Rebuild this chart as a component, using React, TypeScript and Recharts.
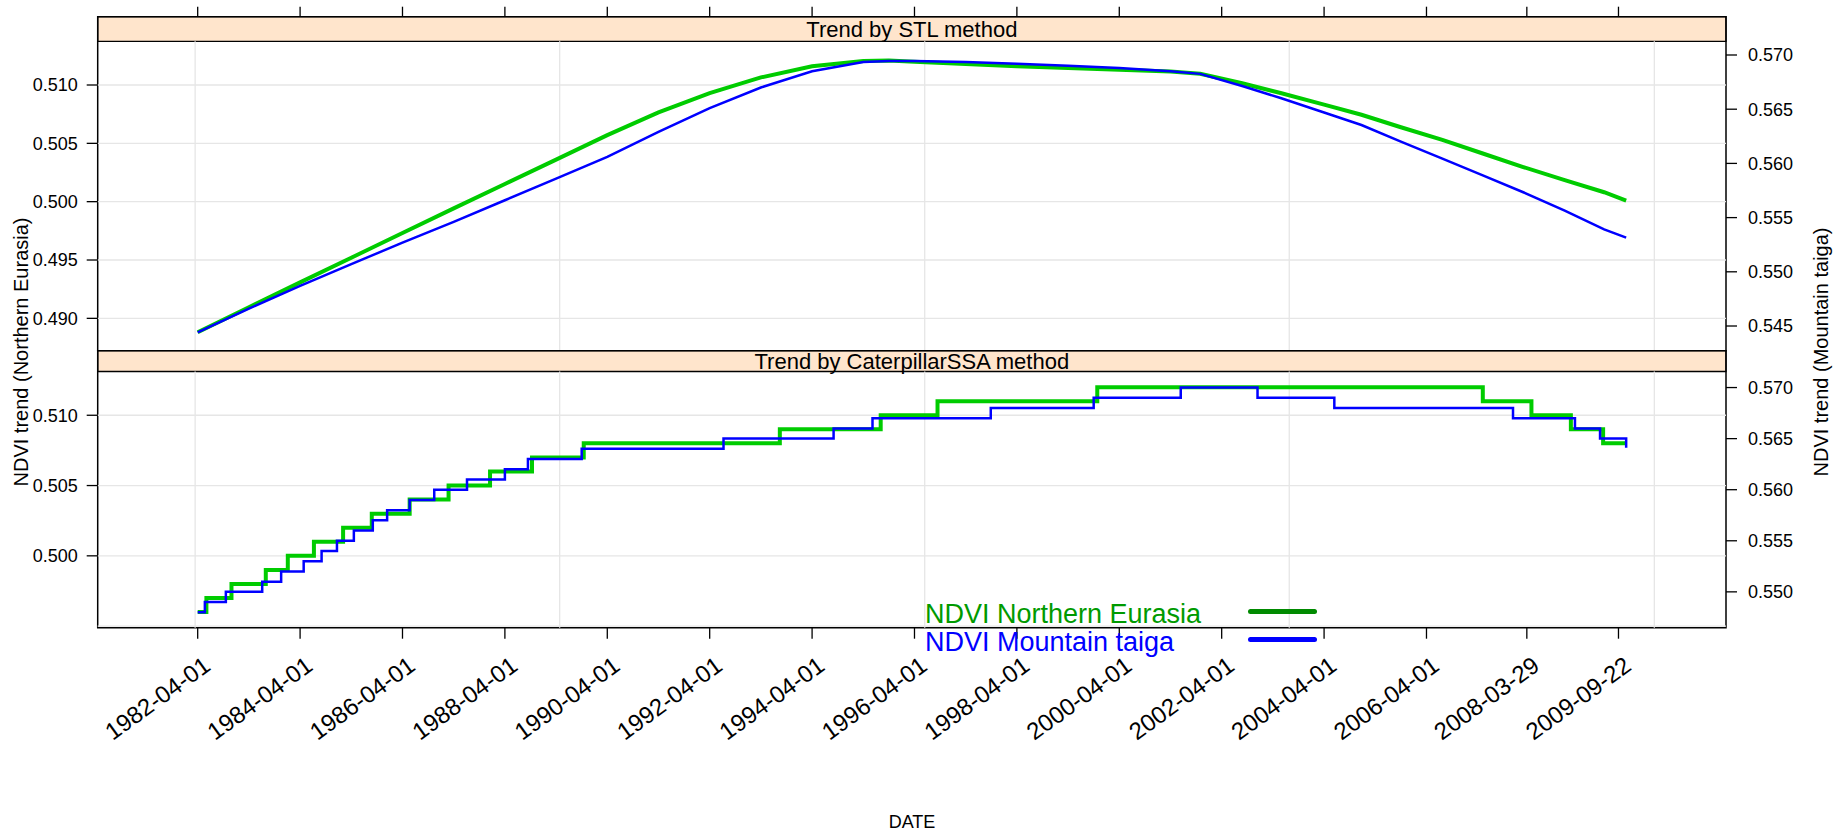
import React from 'react';
import { LineChart, Line, XAxis, YAxis, ReferenceArea, ReferenceLine, Legend } from 'recharts';

const W = 1833;
const H = 832;
const FONT = '"Liberation Sans", Arial, Helvetica, sans-serif';

// x is the time position in years after 1982-04-01 along the plot's time index
const tickPos = [0, 2, 4, 6, 8, 10, 12, 14, 16, 18, 20, 22, 24, 25.96, 27.75];
const tickLabels = [
  '1982-04-01', '1984-04-01', '1986-04-01', '1988-04-01', '1990-04-01', '1992-04-01',
  '1994-04-01', '1996-04-01', '1998-04-01', '2000-04-01', '2002-04-01', '2004-04-01',
  '2006-04-01', '2008-03-29', '2009-09-22',
];
const gridX = [-0.05, 7.07, 14.2, 21.32, 28.45];
const xDomain = [-1.953, 29.85];

// Trend by STL method
const stlT = [0, 1, 2, 3, 4, 5, 6, 7, 8, 9, 10, 11, 12, 13, 13.5, 14, 15, 16, 17, 18, 19, 19.58, 20.4, 21.15, 22, 22.73, 23.5, 24.31, 25.1, 25.89, 26.7, 27.47, 27.9];
const stlNE = [0.48881, 0.49095, 0.49308, 0.4952, 0.49732, 0.49943, 0.50152, 0.5036, 0.5057, 0.50765, 0.5093, 0.51065, 0.5116, 0.51205, 0.5121, 0.512, 0.5118, 0.5116, 0.51145, 0.5113, 0.51115, 0.51096, 0.51015, 0.50931, 0.50832, 0.50745, 0.50638, 0.50529, 0.50413, 0.50297, 0.50185, 0.50081, 0.50009];
const stlMT = [0.54441, 0.5466, 0.5487, 0.5507, 0.5527, 0.5546, 0.5566, 0.5586, 0.5606, 0.5629, 0.5651, 0.567, 0.5685, 0.56935, 0.56945, 0.56945, 0.56935, 0.5692, 0.569, 0.5688, 0.5685, 0.56826, 0.56714, 0.56603, 0.5647, 0.56354, 0.562, 0.56044, 0.5589, 0.55734, 0.55565, 0.55392, 0.55315];

// Trend by CaterpillarSSA method (step series)
const ssaNEt = [0, 0.17, 0.66, 1.33, 1.76, 2.27, 2.84, 3.4, 4.14, 4.9, 5.71, 6.53, 7.54, 11.37, 13.34, 14.45, 17.57, 25.1, 26.05, 26.82, 27.45, 27.9];
const ssaNEv = [0.496, 0.497, 0.498, 0.499, 0.5, 0.501, 0.502, 0.503, 0.504, 0.505, 0.506, 0.507, 0.508, 0.509, 0.51, 0.511, 0.512, 0.511, 0.51, 0.509, 0.508, 0.508];
const ssaMTt = [0, 0.14, 0.55, 1.26, 1.63, 2.07, 2.42, 2.72, 3.05, 3.42, 3.7, 4.14, 4.62, 5.26, 6.0, 6.45, 7.5, 10.27, 12.42, 13.18, 15.49, 17.5, 19.2, 20.7, 22.2, 25.69, 26.9, 27.39, 27.82, 27.9];
const ssaMTv = [0.548, 0.549, 0.55, 0.551, 0.552, 0.553, 0.554, 0.555, 0.556, 0.557, 0.558, 0.559, 0.56, 0.561, 0.562, 0.563, 0.564, 0.565, 0.566, 0.567, 0.568, 0.569, 0.57, 0.569, 0.568, 0.567, 0.566, 0.565, 0.565, 0.5641];

const leftTicksTop = [0.49, 0.495, 0.5, 0.505, 0.51];
const rightTicksTop = [0.545, 0.55, 0.555, 0.56, 0.565, 0.57];
const leftTicksBot = [0.5, 0.505, 0.51];
const leftGridBot = [0.495, 0.5, 0.505, 0.51];
const rightTicksBot = [0.55, 0.555, 0.56, 0.565, 0.57];

// axis ranges (value at panel bottom, strip bottom, strip top)
const topLeft = [0.487227, 0.513746, 0.515854];
const topRight = [0.542722, 0.573533];
const botLeft = [0.494888, 0.513112, 0.514592];
const botRight = [0.546491, 0.573607];

const seriesNames = ['NDVI Northern Eurasia', 'NDVI Mountain taiga'];
const lineColors = ['#00CC00', '#0000FF'];
const legendText = ['#009A00', '#0000FF'];
const legendLine = ['#008A00', '#0000FF'];

const stlData = stlT.map((t, i) => ({ t, ne: stlNE[i], mt: stlMT[i] }));
const ssaNE = ssaNEt.map((t, i) => ({ t, v: ssaNEv[i] }));
const ssaMT = ssaMTt.map((t, i) => ({ t, v: ssaMTv[i] }));

const GRID = '#E6E6E6';
const fmt = (v: number) => v.toFixed(3);

const EmptyTick = () => <g />;

const XTick = (props: any) => {
  const { x, y, payload } = props;
  const idx = tickPos.indexOf(payload.value);
  const ax = x + 4;
  const ay = y + 14;
  return (
    <text x={ax} y={ay} transform={`rotate(-36 ${ax} ${ay})`} textAnchor="end" fontSize={24} fill="#000" dominantBaseline="hanging">
      {tickLabels[idx]}
    </text>
  );
};

const renderLegend = () => (
  <div style={{ fontFamily: FONT, fontSize: 27 }}>
    {seriesNames.map((n, i) => (
      <div key={n} style={{ display: 'flex', alignItems: 'center', height: 28 }}>
        <span style={{ color: legendText[i], width: 323, whiteSpace: 'nowrap', lineHeight: '28px', position: 'relative', top: 3 }}>{n}</span>
        <span style={{ display: 'inline-block', width: 69, height: 5, borderRadius: 3, background: legendLine[i] }} />
      </div>
    ))}
  </div>
);

function Panel(props: {
  top: boolean;
  title: string;
  left: number[];
  right: number[];
  leftTicks: number[];
  leftGrid: number[];
  rightTicks: number[];
  children: React.ReactNode;
}) {
  const { top, title, left, right, leftTicks, leftGrid, rightTicks } = props;
  const margin = top
    ? { top: 6.7, bottom: H - 350.7, left: 17.7, right: 27 }
    : { top: 350.7, bottom: H - 683.7 - 140, left: 17.7, right: 27 };
  return (
    <div style={{ position: 'absolute', left: 0, top: 0 }}>
      <LineChart width={W} height={H} margin={margin} data={top ? stlData : undefined}>
        <XAxis
          xAxisId={0}
          type="number"
          dataKey="t"
          domain={xDomain}
          allowDataOverflow
          ticks={tickPos}
          interval={0}
          orientation={top ? 'top' : 'bottom'}
          height={top ? 10 : 140}
          tickSize={top ? 10 : 11}
          tickMargin={2}
          axisLine={false}
          tickLine={{ stroke: '#000', strokeWidth: 1.3 }}
          tick={top ? <EmptyTick /> : <XTick />}
        />
        <YAxis
          yAxisId="left"
          orientation="left"
          type="number"
          width={80}
          domain={[left[0], left[2]]}
          allowDataOverflow
          ticks={leftTicks}
          interval={0}
          tickFormatter={fmt}
          tick={{ fontSize: 18, fill: '#000' }}
          tickSize={11}
          tickMargin={9}
          axisLine={false}
          tickLine={{ stroke: '#000', strokeWidth: 1.3 }}
        />
        <YAxis
          yAxisId="right"
          orientation="right"
          type="number"
          width={80}
          domain={right}
          allowDataOverflow
          ticks={rightTicks}
          interval={0}
          tickFormatter={fmt}
          tick={{ fontSize: 18, fill: '#000', textAnchor: 'start' }}
          tickSize={11}
          tickMargin={11}
          axisLine={false}
          tickLine={{ stroke: '#000', strokeWidth: 1.3 }}
        />
        {leftGrid.map((v) => (
          <ReferenceLine key={'h' + v} yAxisId="left" y={v} stroke={GRID} strokeWidth={1.3} />
        ))}
        {gridX.map((g) => (
          <ReferenceLine
            key={'v' + g}
            yAxisId="left"
            segment={[{ x: g, y: left[0] }, { x: g, y: left[1] }]}
            stroke={GRID}
            strokeWidth={1.3}
          />
        ))}
        <ReferenceArea
          yAxisId="left"
          x1={xDomain[0]}
          x2={xDomain[1]}
          y1={left[1]}
          y2={left[2]}
          fill="#FFE5CC"
          fillOpacity={1}
          stroke="#000"
          strokeWidth={1.3}
          label={{ value: title, position: 'center', fontSize: 22, fill: '#000' }}
        />
        <ReferenceArea
          yAxisId="left"
          x1={xDomain[0]}
          x2={xDomain[1]}
          y1={left[0]}
          y2={left[2]}
          fill="none"
          stroke="#000"
          strokeWidth={1.5}
        />
        {props.children}
      </LineChart>
    </div>
  );
}

export default function App() {
  return (
    <div style={{ position: 'absolute', left: 0, top: 0, width: W, height: H, background: '#fff', fontFamily: FONT }}>
      <Panel
        top
        title="Trend by STL method"
        left={topLeft}
        right={topRight}
        leftTicks={leftTicksTop}
        leftGrid={leftTicksTop}
        rightTicks={rightTicksTop}
      >
        <Line yAxisId="left" dataKey="ne" name={seriesNames[0]} stroke={lineColors[0]} strokeWidth={4} dot={false} activeDot={false} isAnimationActive={false} />
        <Line yAxisId="right" dataKey="mt" name={seriesNames[1]} stroke={lineColors[1]} strokeWidth={2.5} dot={false} activeDot={false} isAnimationActive={false} />
      </Panel>
      <Panel
        top={false}
        title="Trend by CaterpillarSSA method"
        left={botLeft}
        right={botRight}
        leftTicks={leftTicksBot}
        leftGrid={leftGridBot}
        rightTicks={rightTicksBot}
      >
        <Line yAxisId="left" data={ssaNE} dataKey="v" type="stepAfter" name={seriesNames[0]} stroke={lineColors[0]} strokeWidth={4} dot={false} activeDot={false} isAnimationActive={false} />
        <Line yAxisId="right" data={ssaMT} dataKey="v" type="stepAfter" name={seriesNames[1]} stroke={lineColors[1]} strokeWidth={2.5} dot={false} activeDot={false} isAnimationActive={false} />
        <Legend content={renderLegend} wrapperStyle={{ position: 'absolute', left: 925, top: 597, width: 420, bottom: 'auto' }} />
      </Panel>
      <div style={{ position: 'absolute', left: 21, top: 352, transform: 'translate(-50%, -50%) rotate(-90deg)', fontSize: 20, whiteSpace: 'nowrap', color: '#000' }}>
        NDVI trend (Northern Eurasia)
      </div>
      <div style={{ position: 'absolute', left: 1821, top: 352, transform: 'translate(-50%, -50%) rotate(-90deg)', fontSize: 20, whiteSpace: 'nowrap', color: '#000' }}>
        NDVI trend (Mountain taiga)
      </div>
      <div style={{ position: 'absolute', left: 912, top: 822, transform: 'translate(-50%, -50%)', fontSize: 18, whiteSpace: 'nowrap', color: '#000' }}>
        DATE
      </div>
    </div>
  );
}
